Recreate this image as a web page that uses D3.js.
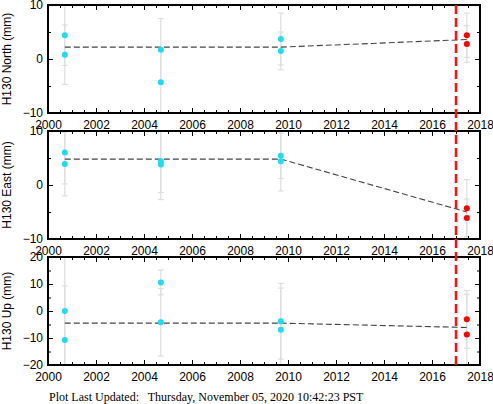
<!DOCTYPE html>
<html>
<head>
<meta charset="utf-8">
<script src="https://cdn.jsdelivr.net/npm/d3@7"></script>
<style>
  body { margin: 0; background: #fff; }
  svg { display: block; }
  .tick text { font-family: "Liberation Sans", Arial, sans-serif; font-size: 12px; fill: #000; }
</style>
</head>
<body>
<svg id="canvas" width="493" height="404"></svg>
<script>
// epochs of each measurement (two per campaign)
const epochs = [2000.7, 2000.7, 2004.7, 2004.7, 2009.7, 2009.7, 2017.45, 2017.45];

const northValues = [4.4, 0.8, 1.7, -4.3, 3.7, 1.5, 4.4, 2.8];
const northErrors = [5.6, 5.5, 5.8, 5.8, 4.8, 3.5, 4.1, 3.4];

const eastValues = [6.0, 3.9, 4.4, 3.8, 5.4, 4.4, -4.3, -6.1];
const eastErrors = [5.8, 5.9, 5.8, 6.5, 4.2, 5.5, 5.3, 3.5];

const upValues = [0.0, -10.7, 10.6, -4.2, -3.8, -6.9, -3.1, -8.7];
const upErrors = [25, 20, 4.6, 12.5, 14, 15.4, 10.7, 14.9];

// piecewise model line
const modelYears = [2000.7, 2009.7, 2017.45];
const northModel = [2.2, 2.2, 3.6];
const eastModel = [4.8, 4.8, -5.0];
const upModel = [-4.5, -4.5, -6.1];

const eventYear = 2017.0;
const xDomain = [2000, 2018];
const xTicks = [2000, 2002, 2004, 2006, 2008, 2010, 2012, 2014, 2016, 2018];

const panels = [
  { title: "H130 North (mm)", values: northValues, errors: northErrors, model: northModel, domain: [-10, 10], ticks: [-10, 0, 10], minor: [-10, -5, 0, 5, 10] },
  { title: "H130 East (mm)", values: eastValues, errors: eastErrors, model: eastModel, domain: [-10, 10], ticks: [-10, 0, 10], minor: [-10, -5, 0, 5, 10] },
  { title: "H130 Up (mm)", values: upValues, errors: upErrors, model: upModel, domain: [-20, 20], ticks: [-20, -10, 0, 10, 20], minor: [-20, -15, -10, -5, 0, 5, 10, 15, 20] }
];

let canvas = d3.select("#canvas");

const left = 48, right = 480, panelH = 108, step = 126, top0 = 5;

let x = d3.scaleLinear().domain(xDomain).range([left, right]);
let minorX = d3.range(2000, 2018.01, 0.5);

let drawPanel = (p, i) => {
  let top = top0 + i * step;
  let bottom = top + panelH;
  let y = d3.scaleLinear().domain(p.domain).range([bottom, top]);
  let g = canvas.append("g");

  let clipId = "clip" + i;
  canvas.append("clipPath").attr("id", clipId)
    .append("rect").attr("x", left).attr("y", top).attr("width", right - left).attr("height", panelH);

  let plot = g.append("g").attr("clip-path", "url(#" + clipId + ")");

  // error bars
  let rows = epochs.map((e, k) => ({ t: e, v: p.values[k], err: p.errors[k] }));
  let bars = plot.selectAll("g.err").data(rows).enter().append("g")
    .attr("stroke", "#dedede").attr("stroke-width", 1.2);
  bars.append("line")
    .attr("x1", d => x(d.t)).attr("x2", d => x(d.t))
    .attr("y1", d => y(d.v + d.err)).attr("y2", d => y(d.v - d.err));
  bars.append("line")
    .attr("x1", d => x(d.t) - 3).attr("x2", d => x(d.t) + 3)
    .attr("y1", d => y(d.v + d.err)).attr("y2", d => y(d.v + d.err));
  bars.append("line")
    .attr("x1", d => x(d.t) - 3).attr("x2", d => x(d.t) + 3)
    .attr("y1", d => y(d.v - d.err)).attr("y2", d => y(d.v - d.err));

  // model line
  let line = d3.line().x(d => x(d[0])).y(d => y(d[1]));
  plot.append("path")
    .datum(modelYears.map((t, k) => [t, p.model[k]]))
    .attr("d", line)
    .attr("fill", "none")
    .attr("stroke", "#444")
    .attr("stroke-width", 1.1)
    .attr("stroke-dasharray", "6,3");

  // points
  plot.selectAll("circle").data(rows).enter().append("circle")
    .attr("cx", d => x(d.t)).attr("cy", d => y(d.v)).attr("r", 3)
    .attr("fill", d => d.t > eventYear ? "#ff0000" : "#1cdcf2");

  // axes, ticks pointing inward
  let xMajor = d3.axisBottom(x).tickValues(xTicks).tickFormat(d3.format("d")).tickSize(-5).tickPadding(7);
  let xMinor = d3.axisBottom(x).tickValues(minorX).tickFormat("").tickSize(-3);
  g.append("g").attr("transform", `translate(0,${bottom})`).call(xMinor);
  g.append("g").attr("transform", `translate(0,${bottom})`).call(xMajor);
  g.append("g").attr("transform", `translate(0,${top})`).call(d3.axisTop(x).tickValues(minorX).tickFormat("").tickSize(-3));
  g.append("g").attr("transform", `translate(0,${top})`).call(d3.axisTop(x).tickValues(xTicks).tickFormat("").tickSize(-5));

  g.append("g").attr("transform", `translate(${left},0)`).call(d3.axisLeft(y).tickValues(p.minor).tickFormat("").tickSize(-3));
  g.append("g").attr("transform", `translate(${left},0)`).call(d3.axisLeft(y).tickValues(p.ticks).tickSize(-5).tickPadding(5));
  g.append("g").attr("transform", `translate(${right},0)`).call(d3.axisRight(y).tickValues(p.minor).tickFormat("").tickSize(-3));
  g.append("g").attr("transform", `translate(${right},0)`).call(d3.axisRight(y).tickValues(p.ticks).tickFormat("").tickSize(-5));

  g.selectAll(".domain").remove();
  g.selectAll(".tick line").attr("stroke", "#000").attr("stroke-width", 1);

  // frame
  g.append("rect")
    .attr("x", left).attr("y", top).attr("width", right - left).attr("height", panelH)
    .attr("fill", "none").attr("stroke", "#000").attr("stroke-width", 2);

  // y title
  g.append("text")
    .attr("transform", `translate(10.5,${(top + bottom) / 2}) rotate(-90)`)
    .attr("text-anchor", "middle")
    .style("font-family", "'Liberation Sans', Arial, sans-serif")
    .style("font-size", "12px")
    .text(p.title);
};

panels.forEach(drawPanel);

// event marker across all panels
canvas.append("line")
  .attr("x1", x(eventYear)).attr("x2", x(eventYear))
  .attr("y1", top0).attr("y2", top0 + 2 * step + panelH)
  .attr("stroke", "#ff1010")
  .attr("stroke-width", 2.5)
  .attr("stroke-dasharray", "9,4");

canvas.append("text")
  .attr("x", 49).attr("y", 401)
  .style("font-family", "'Liberation Serif', 'Times New Roman', serif")
  .style("font-size", "12px")
  .style("white-space", "pre")
  .text("Plot Last Updated:   Thursday, November 05, 2020 10:42:23 PST");
</script>
</body>
</html>
